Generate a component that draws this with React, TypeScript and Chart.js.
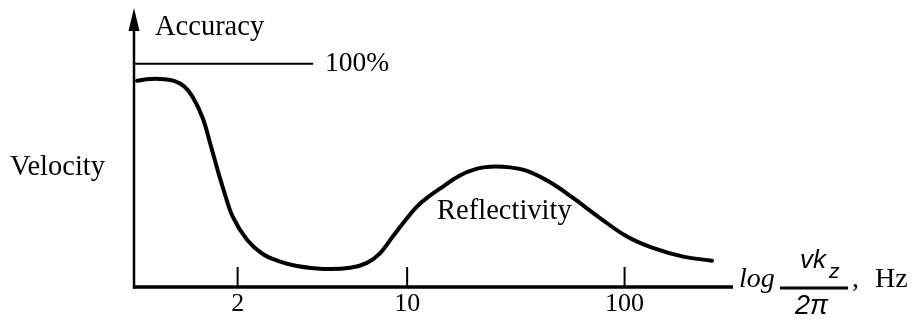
import React, { useEffect, useRef } from "react";
import { Chart, registerables } from "chart.js";

Chart.register(...registerables);

// Schematic frequency axis (arbitrary log-like units, 0..10 across the axis)
const freqPos: number[] = [0.05, 0.27, 0.5, 0.68, 0.84, 0.98, 1.15, 1.27, 1.39, 1.49, 1.65, 1.89, 2.15, 2.44, 2.72, 3.16, 3.61, 3.89, 4.11, 4.32, 4.56, 4.72, 4.89, 5.16, 5.44, 5.73, 5.94, 6.28, 6.56, 6.94, 7.33, 7.78, 8.23, 8.66, 9.17, 9.65];
// Accuracy in percent of the ideal value
const accuracy: number[] = [92.4, 93.2, 93.1, 92.2, 89.8, 85.1, 75.5, 64.5, 53.0, 44.0, 31.4, 21.1, 14.8, 11.4, 9.4, 8.1, 8.6, 10.8, 15.2, 22.6, 30.9, 35.9, 39.9, 45.0, 50.0, 53.0, 53.9, 53.6, 52.0, 47.0, 39.9, 30.9, 22.6, 17.5, 13.6, 11.8];

// Tick marks on the frequency axis and their labels
const tickPos: number[] = [1.73, 4.56, 8.19];
const tickLabels: string[] = ["2", "10", "100"];

const X_MAX = 10;
const Y_MAX = 125;
const FULL_SCALE = 100;

const SERIF = '"Liberation Serif", "Times New Roman", serif';
const SANS = '"Liberation Sans", Arial, sans-serif';

const sketchAxes = {
  id: "sketchAxes",
  afterDatasetsDraw(chart: any) {
    const ctx: CanvasRenderingContext2D = chart.ctx;
    const xs = chart.scales.x;
    const ys = chart.scales.y;
    const x0 = xs.getPixelForValue(0);
    const x1 = xs.getPixelForValue(X_MAX);
    const y0 = ys.getPixelForValue(0);
    const yTop = ys.getPixelForValue(Y_MAX);

    ctx.save();
    ctx.strokeStyle = "#000";
    ctx.fillStyle = "#000";
    ctx.lineCap = "butt";

    // vertical axis with arrow head
    ctx.lineWidth = 2.5;
    ctx.beginPath();
    ctx.moveTo(x0, y0 + 1.5);
    ctx.lineTo(x0, yTop + 18);
    ctx.stroke();
    ctx.beginPath();
    ctx.moveTo(x0, yTop);
    ctx.lineTo(x0 - 5.5, yTop + 23);
    ctx.lineTo(x0 + 5.5, yTop + 23);
    ctx.closePath();
    ctx.fill();

    // horizontal axis
    ctx.lineWidth = 3.5;
    ctx.beginPath();
    ctx.moveTo(x0 - 1, y0);
    ctx.lineTo(x1, y0);
    ctx.stroke();

    // ticks pointing up into the plot, labels beneath
    ctx.lineWidth = 2;
    ctx.font = `26px ${SERIF}`;
    ctx.textAlign = "center";
    ctx.textBaseline = "alphabetic";
    tickPos.forEach((v, i) => {
      const px = xs.getPixelForValue(v);
      ctx.beginPath();
      ctx.moveTo(px, y0);
      ctx.lineTo(px, y0 - 20);
      ctx.stroke();
      ctx.fillText(tickLabels[i], px, y0 + 24);
    });

    // 100% reference line
    const y100 = ys.getPixelForValue(FULL_SCALE);
    ctx.lineWidth = 2;
    ctx.beginPath();
    ctx.moveTo(x0, y100);
    ctx.lineTo(xs.getPixelForValue(2.99), y100);
    ctx.stroke();

    ctx.textAlign = "left";
    ctx.font = `27.5px ${SERIF}`;
    ctx.fillText("100%", xs.getPixelForValue(3.19), y100 + 7);
    ctx.font = `28.5px ${SERIF}`;
    ctx.fillText("Accuracy", x0 + 21, yTop + 27);
    ctx.fillText("Velocity", 10, 175);
    ctx.fillText("Reflectivity", xs.getPixelForValue(5.06), ys.getPixelForValue(30.5));

    // axis title: log (v k_z / 2π), Hz
    const bx = x1 + 6;
    ctx.font = `italic 28px ${SERIF}`;
    ctx.fillText("log", bx, y0);
    ctx.font = `italic 26px ${SANS}`;
    ctx.fillText("vk", bx + 61, y0 - 19);
    ctx.font = `italic 21px ${SANS}`;
    ctx.fillText("z", bx + 90, y0 - 9);
    ctx.font = `italic 27px ${SANS}`;
    ctx.fillText("2\u03c0", bx + 56, y0 + 27);
    ctx.lineWidth = 3;
    ctx.beginPath();
    ctx.moveTo(bx + 41, y0 + 1);
    ctx.lineTo(bx + 109, y0 + 1);
    ctx.stroke();
    ctx.font = `28px ${SERIF}`;
    ctx.fillText(",", bx + 113, y0);
    ctx.fillText("Hz", bx + 136, y0);

    ctx.restore();
  },
};

export default function App() {
  const canvasRef = useRef<HTMLCanvasElement | null>(null);

  useEffect(() => {
    if (!canvasRef.current) return;
    const chart = new Chart(canvasRef.current, {
      type: "line",
      data: {
        datasets: [
          {
            data: freqPos.map((x, i) => ({ x, y: accuracy[i] })),
            borderColor: "#000",
            borderWidth: 4,
            borderCapStyle: "round",
            borderJoinStyle: "round",
            pointRadius: 0,
            tension: 0.4,
            fill: false,
          },
        ],
      },
      options: {
        animation: false,
        responsive: true,
        maintainAspectRatio: false,
        layout: { padding: { left: 134, right: 179, top: 8, bottom: 33 } },
        plugins: { legend: { display: false }, tooltip: { enabled: false } },
        scales: {
          x: { type: "linear", min: 0, max: X_MAX, display: false },
          y: { type: "linear", min: 0, max: Y_MAX, display: false },
        },
      },
      plugins: [sketchAxes],
    });
    return () => chart.destroy();
  }, []);

  return (
    <div style={{ position: "absolute", left: 0, top: 0, width: 912, height: 320, background: "#fff" }}>
      <canvas ref={canvasRef} />
    </div>
  );
}
